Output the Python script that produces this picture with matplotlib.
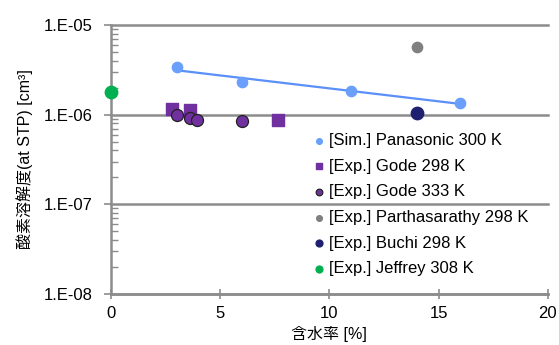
import numpy as np
import matplotlib
matplotlib.use("Agg")
import matplotlib.pyplot as plt
from matplotlib.ticker import LogLocator, FixedLocator, NullFormatter

plt.rcParams['font.family'] = ['Liberation Sans', 'Noto Sans CJK JP', 'DejaVu Sans']

# data
sim_x = [3, 6, 11, 16]
sim_y = [3.4e-6, 2.3e-6, 1.84e-6, 1.35e-6]
gode298_x = [2.8, 3.6, 7.65]
gode298_y = [1.16e-6, 1.13e-6, 0.87e-6]
gode333_x = [3.0, 3.6, 3.95, 6.0]
gode333_y = [1.0e-6, 0.91e-6, 0.88e-6, 0.85e-6]
parth_x = [14]
parth_y = [5.7e-6]
buchi_x = [14]
buchi_y = [1.05e-6]
jeff_x = [0]
jeff_y = [1.79e-6]

labels = ["[Sim.] Panasonic 300 K", "[Exp.] Gode 298 K", "[Exp.] Gode 333 K",
          "[Exp.] Parthasarathy 298 K", "[Exp.] Buchi 298 K", "[Exp.] Jeffrey 308 K"]
yticks = [1e-8, 1e-7, 1e-6, 1e-5]
ytick_labels = ["1.E-08", "1.E-07", "1.E-06", "1.E-05"]
xticks = [0, 5, 10, 15, 20]

fig = plt.figure(figsize=(5.59, 3.45), dpi=100)
ax = fig.add_axes([0.1986, 0.1478, 0.7814, 0.7797])

ax.set_xlim(0, 20)
ax.set_ylim(1e-8, 1e-5)
ax.set_yscale('log')

grid_c = '#8c8c8c'
for yv in yticks:
    ax.axhline(yv, color=grid_c, lw=1.8, zorder=1, clip_on=False)

# exponential trend line for simulation
p = np.polyfit(sim_x, np.log(sim_y), 1)
tx = np.linspace(min(sim_x), max(sim_x), 100)
ax.plot(tx, np.exp(np.polyval(p, tx)), color='#5b8ff9', lw=1.6, zorder=2)

h = []
h.append(ax.scatter(sim_x, sim_y, s=55, color='#6a9ffc', zorder=4, label=labels[0], clip_on=False))
h.append(ax.scatter(gode298_x, gode298_y, s=70, marker='s', color='#7030a0', zorder=4, label=labels[1], clip_on=False))
h.append(ax.scatter(gode333_x, gode333_y, s=75, color='#7030a0', edgecolors='#222222', linewidths=0.9, zorder=5, label=labels[2], clip_on=False))
h.append(ax.scatter(parth_x, parth_y, s=55, color='#808080', zorder=4, label=labels[3], clip_on=False))
h.append(ax.scatter(buchi_x, buchi_y, s=80, color='#1f2070', zorder=4, label=labels[4], clip_on=False))
h.append(ax.scatter(jeff_x, jeff_y, s=80, color='#00b050', zorder=6, label=labels[5], clip_on=False))

for s in ['top', 'right']:
    ax.spines[s].set_visible(False)
for s in ['left', 'bottom']:
    ax.spines[s].set_color(grid_c)
    ax.spines[s].set_linewidth(1.8)

ax.yaxis.set_major_locator(FixedLocator(yticks))
ax.set_yticklabels(ytick_labels)
ax.yaxis.set_minor_locator(LogLocator(base=10, subs=np.arange(2, 10)))
ax.yaxis.set_minor_formatter(NullFormatter())
ax.tick_params(axis='y', which='major', direction='out', length=5, width=1.2, color=grid_c,
               labelsize=12, pad=8)
ax.tick_params(axis='y', which='minor', direction='in', length=5, width=1.0, color=grid_c)
ax.set_xticks(xticks)
ax.tick_params(axis='x', which='major', direction='inout', length=7, width=1.2, color=grid_c,
               labelsize=12, pad=5)

ax.set_xlabel("含水率 [%]", fontsize=11.5, labelpad=4)
ax.set_ylabel("酸素溶解度(at STP) [cm³]", fontsize=11.5, labelpad=8)

leg = ax.legend(handles=h, loc='upper left', bbox_to_anchor=(0.437, 0.63), frameon=False,
                fontsize=12, markerscale=0.55, handletextpad=0.12, labelspacing=0.64,
                borderpad=0, handlelength=1.0, scatteryoffsets=[0.35])

fig.savefig("out.png", dpi=100)
